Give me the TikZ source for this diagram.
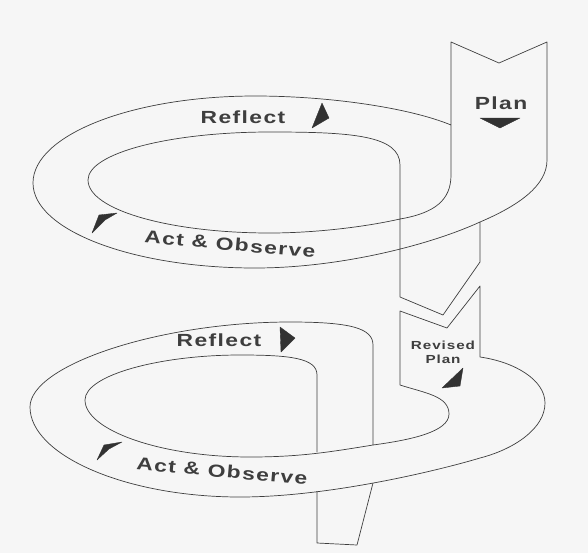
\documentclass[tikz,border=0pt]{standalone}
\usepackage{fontspec}
\newfontfamily\tagfont[FakeStretch=1.3, LetterSpace=8]{Liberation Sans}
\usetikzlibrary{positioning}
\definecolor{InkGray}{RGB}{62, 62, 62}
\definecolor{PaperGray}{RGB}{246, 246, 246}

\begin{document}
\begin{tikzpicture}[x=0.03cm, y=-0.03cm,
            band/.style={draw=InkGray, line width=0.6pt, line join=round},
            cone/.style={fill=InkGray!80!black, draw=InkGray!80!black,
                         line join=round, line width=0.3pt},
            tag/.style={font=\tagfont\bfseries\fontsize{15}{17}\selectfont,
                        text=InkGray, inner sep=0pt},
            smalltag/.style={font=\tagfont\bfseries\fontsize{10}{12}\selectfont,
                             text=InkGray, align=center, inner sep=0pt}
        ]
            \fill[PaperGray] (0,0) rectangle (588,553);
            \useasboundingbox (0,0) rectangle (588,553);

            % upper turn: plan, ring, chevron
            \draw[band] (451,125) .. controls (410,108) and (330,96) .. (255,96)
                .. controls (132,96) and (33,135) .. (33,183)
                .. controls (33,230) and (132,268) .. (255,268)
                .. controls (340,268) and (430,245) .. (480,222)
                .. controls (520,205) and (547,185) .. (547,160)
                -- (547,42) -- (499,63) -- (451,42) -- (451,175)
                .. controls (451,200) and (435,213) .. (400,219)
                .. controls (360,228) and (310,233) .. (270,233)
                .. controls (170,233) and (88,210) .. (88,180)
                .. controls (88,153) and (170,132) .. (270,132)
                .. controls (350,132) and (400,135) .. (400,165)
                -- (400,297) -- (443,315) -- (480,262) -- (480,222);

            % lower turn: revised plan, ring
            \draw[band] (373,445) -- (373,345)
                .. controls (373,328) and (350,322) .. (290,322)
                .. controls (160,322) and (30,365) .. (30,407)
                .. controls (30,455) and (125,497) .. (240,497)
                .. controls (330,497) and (440,470) .. (480,458)
                .. controls (515,449) and (545,428) .. (545,403)
                .. controls (545,380) and (515,362) .. (480,357)
                -- (480,286) -- (447,328) -- (400,311) -- (400,385)
                .. controls (425,393) and (449,396) .. (449,414)
                .. controls (449,432) and (410,440) .. (373,445)
                .. controls (330,452) and (300,457) .. (250,457)
                .. controls (160,457) and (85,430) .. (85,400)
                .. controls (85,375) and (160,355) .. (240,355)
                .. controls (290,355) and (317,358) .. (317,375)
                -- (317,452);
            \draw[band] (317,491) -- (317,543) -- (357,545) -- (373,483);

            \node[tag] (plan) at (501,103) {Plan};
            \node[tag] (reflectA) at (243,117) {Reflect};
            \node[tag, rotate=-5] (actA) at (230,244) {Act \& Observe};
            \node[tag] (reflectB) at (219,340) {Reflect};
            \node[tag, rotate=-5] (actB) at (222,471) {Act \& Observe};
            \node[smalltag] (revised) at (443,352) {Revised\\Plan};

            \filldraw[cone] (480,118) -- (520,118) -- (500,128) -- cycle;
            \filldraw[cone] (312,128) -- (322,103) -- (329,118) -- cycle;
            \filldraw[cone] (92,233) -- (99,215) -- (117,213) -- (105,220) -- cycle;
            \filldraw[cone] (280,327) -- (295,338) -- (281,352) -- cycle;
            \filldraw[cone] (97,460) -- (104,445) -- (122,442) -- (109,449) -- cycle;
            \filldraw[cone] (442,388) -- (463,368) -- (460,386) -- cycle;
        \end{tikzpicture}
\end{document}
